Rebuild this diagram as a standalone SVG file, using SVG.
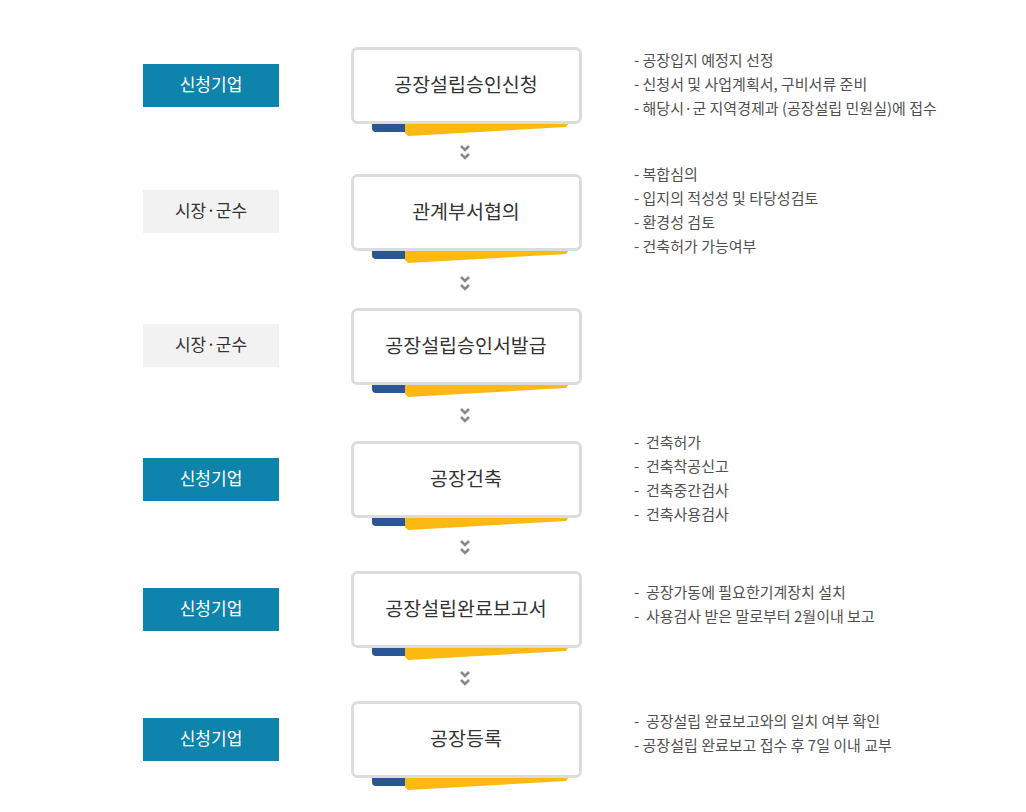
<svg xmlns="http://www.w3.org/2000/svg" width="1026" height="812" viewBox="0 0 1026 812">
<style>
text{font-family:"Noto Sans CJK KR","Noto Sans",sans-serif;}
.box{fill:#fff;stroke:#dcdcdc;stroke-width:3;}
.title{font-size:19.5px;fill:#333;text-anchor:middle;}
.lab-b{fill:#0e84ad;}
.lab-g{fill:#f2f2f2;}
.lt-b{font-size:17px;fill:#fff;text-anchor:middle;}
.lt-g{font-size:17px;fill:#333;text-anchor:middle;}
.desc{font-size:15px;fill:#505050;white-space:pre;}
.blue{fill:#2a5696;}
.yel{fill:#fbb911;}
.chev{fill:none;stroke:#8a8a8a;stroke-width:2.6;}
</style>
<defs>
<g id="ribbon">
<path class="blue" d="M372,0 H405 V8 H376 Q372,8 372,4 Z"/>
<polygon class="yel" points="405,0 568,0 566,3 408,12 405,9"/>
</g>
<g id="chev">
<polyline class="chev" points="461,0 465,4 469,0"/>
<polyline class="chev" points="461,8 465,12 469,8"/>
</g>
</defs>

<g id="connectors">
<use href="#chev" y="146"/>
<use href="#chev" y="277"/>
<use href="#chev" y="409"/>
<use href="#chev" y="541"/>
<use href="#chev" y="672"/>
</g>

<g id="step1">
<rect class="lab-b" x="143" y="64" width="136" height="43"/>
<text class="lt-b" x="211" y="91">신청기업</text>
<use href="#ribbon" y="124"/>
<rect class="box" x="352.5" y="48.5" width="228" height="74" rx="5"/>
<text class="title" x="466" y="92">공장설립승인신청</text>
<text class="desc" x="634" y="66">- 공장입지 예정지 선정</text>
<text class="desc" x="634" y="90">- 신청서 및 사업계획서, 구비서류 준비</text>
<text class="desc" x="634" y="114">- 해당시·군 지역경제과 (공장설립 민원실)에 접수</text>
</g>

<g id="step2">
<rect class="lab-g" x="143" y="190" width="136" height="43"/>
<text class="lt-g" x="211" y="217">시장·군수</text>
<use href="#ribbon" y="251"/>
<rect class="box" x="352.5" y="175.5" width="228" height="74" rx="5"/>
<text class="title" x="466" y="219">관계부서협의</text>
<text class="desc" x="634" y="180">- 복합심의</text>
<text class="desc" x="634" y="204">- 입지의 적성성 및 타당성검토</text>
<text class="desc" x="634" y="228">- 환경성 검토</text>
<text class="desc" x="634" y="252">- 건축허가 가능여부</text>
</g>

<g id="step3">
<rect class="lab-g" x="143" y="324" width="136" height="43"/>
<text class="lt-g" x="211" y="351">시장·군수</text>
<use href="#ribbon" y="385"/>
<rect class="box" x="352.5" y="309.5" width="228" height="74" rx="5"/>
<text class="title" x="466" y="353">공장설립승인서발급</text>
</g>

<g id="step4">
<rect class="lab-b" x="143" y="458" width="136" height="43"/>
<text class="lt-b" x="211" y="485">신청기업</text>
<use href="#ribbon" y="518"/>
<rect class="box" x="352.5" y="442.5" width="228" height="74" rx="5"/>
<text class="title" x="466" y="486">공장건축</text>
<text class="desc" x="634" y="448">-  건축허가</text>
<text class="desc" x="634" y="472">-  건축착공신고</text>
<text class="desc" x="634" y="496">-  건축중간검사</text>
<text class="desc" x="634" y="520">-  건축사용검사</text>
</g>

<g id="step5">
<rect class="lab-b" x="143" y="588" width="136" height="43"/>
<text class="lt-b" x="211" y="615">신청기업</text>
<use href="#ribbon" y="648"/>
<rect class="box" x="352.5" y="572.5" width="228" height="74" rx="5"/>
<text class="title" x="466" y="616">공장설립완료보고서</text>
<text class="desc" x="634" y="598">-  공장가동에 필요한기계장치 설치</text>
<text class="desc" x="634" y="622">-  사용검사 받은 말로부터 2월이내 보고</text>
</g>

<g id="step6">
<rect class="lab-b" x="143" y="718" width="136" height="43"/>
<text class="lt-b" x="211" y="745">신청기업</text>
<use href="#ribbon" y="778"/>
<rect class="box" x="352.5" y="702.5" width="228" height="74" rx="5"/>
<text class="title" x="466" y="746">공장등록</text>
<text class="desc" x="634" y="727">-  공장설립 완료보고와의 일치 여부 확인</text>
<text class="desc" x="634" y="751">- 공장설립 완료보고 접수 후 7일 이내 교부</text>
</g>
</svg>
